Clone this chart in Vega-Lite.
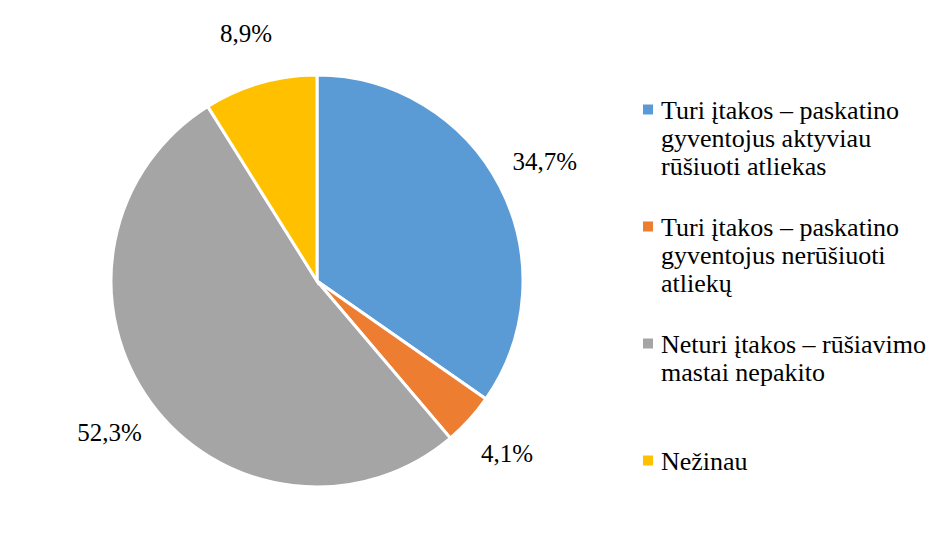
{
  "$schema": "https://vega.github.io/schema/vega-lite/v6.json",
  "width": 634,
  "height": 544,
  "padding": {"left": 0, "top": 9, "right": 0, "bottom": 0},
  "background": "white",
  "config": {"view": {"stroke": null}, "font": "Liberation Serif"},
  "data": {
    "values": [
      {"k": 1, "category": "Turi įtakos – paskatino gyventojus aktyviau rūšiuoti atliekas", "value": 34.7, "label": "34,7%"},
      {"k": 2, "category": "Turi įtakos – paskatino gyventojus nerūšiuoti atliekų", "value": 4.1, "label": "4,1%"},
      {"k": 3, "category": "Neturi įtakos – rūšiavimo mastai nepakito", "value": 52.3, "label": "52,3%"},
      {"k": 4, "category": "Nežinau", "value": 8.9, "label": "8,9%"}
    ]
  },
  "encoding": {
    "theta": {"field": "value", "type": "quantitative", "stack": true},
    "order": {"field": "k", "type": "quantitative"}
  },
  "layer": [
    {
      "mark": {"type": "arc", "outerRadius": 206, "stroke": "white", "strokeWidth": 3},
      "encoding": {
        "color": {
          "field": "category",
          "type": "nominal",
          "sort": null,
          "scale": {
            "domain": [
              "Turi įtakos – paskatino gyventojus aktyviau rūšiuoti atliekas",
              "Turi įtakos – paskatino gyventojus nerūšiuoti atliekų",
              "Neturi įtakos – rūšiavimo mastai nepakito",
              "Nežinau"
            ],
            "range": ["#5B9BD5", "#ED7D31", "#A5A5A5", "#FFC000"]
          },
          "legend": {
            "title": null,
            "orient": "none",
            "legendX": 635,
            "legendY": 97,
            "symbolType": "M-1,-2.9H1V-0.9H-1Z",
            "symbolSize": 100,
            "symbolStrokeWidth": 0,
            "labelFont": "Liberation Serif",
            "labelFontSize": 26,
            "labelColor": "black",
            "labelLimit": 400,
            "labelLineHeight": 30,
            "labelBaseline": "alphabetic",
            "labelOffset": 0,
            "rowPadding": 35,
            "labelExpr": "datum.label == 'Turi įtakos – paskatino gyventojus aktyviau rūšiuoti atliekas' ? ['Turi įtakos – paskatino', 'gyventojus aktyviau', 'rūšiuoti atliekas'] : datum.label == 'Turi įtakos – paskatino gyventojus nerūšiuoti atliekų' ? ['Turi įtakos – paskatino', 'gyventojus nerūšiuoti', 'atliekų'] : datum.label == 'Neturi įtakos – rūšiavimo mastai nepakito' ? ['Neturi įtakos – rūšiavimo', 'mastai nepakito', ''] : datum.label"
          }
        }
      }
    },
    {
      "mark": {"type": "text", "radius": 257, "font": "Liberation Serif", "fontSize": 25, "color": "black", "baseline": "middle", "align": "center"},
      "encoding": {
        "text": {"field": "label", "type": "nominal"}
      }
    }
  ]
}
